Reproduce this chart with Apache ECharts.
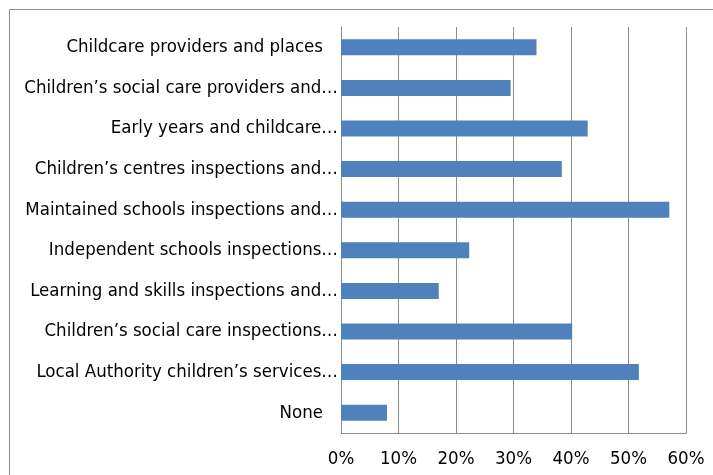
<!DOCTYPE html>
<html>
<head>
<meta charset="utf-8">
<script src="https://cdn.jsdelivr.net/npm/echarts@6/dist/echarts.min.js"></script>
<style>html,body{margin:0;padding:0;background:#fff;}#c{width:713px;height:475px;}</style>
</head>
<body>
<div id="c"></div>
<script>
var categories = [
  "Childcare providers and places",
  "Children\u2019s social care providers and\u2026",
  "Early years and childcare\u2026",
  "Children\u2019s centres inspections and\u2026",
  "Maintained schools inspections and\u2026",
  "Independent schools inspections\u2026",
  "Learning and skills inspections and\u2026",
  "Children\u2019s social care inspections\u2026",
  "Local Authority children\u2019s services\u2026",
  "None"
];
var values = [34.0, 29.5, 42.9, 38.4, 57.1, 22.3, 17.0, 40.2, 51.8, 8.0];
var xTicks = [0, 10, 20, 30, 40, 50, 60];

var FONT = "DejaVu Sans Condensed";
var FS = 18.5;
var chart = echarts.init(document.getElementById('c'));
chart.setOption({
  animation: false,
  backgroundColor: '#fff',
  graphic: [{
    type: 'rect', silent: true, z: -1,
    shape: { x: 9.5, y: 9.5, width: 800, height: 600 },
    style: { fill: 'none', stroke: '#8c8c8c', lineWidth: 1 }
  }],
  grid: { left: 341, right: 27, top: 27, bottom: 42, containLabel: false },
  xAxis: {
    type: 'value', min: xTicks[0], max: xTicks[xTicks.length - 1], interval: 10,
    axisLine: { show: true, lineStyle: { color: '#8c8c8c', width: 1 } },
    axisTick: { show: false },
    splitLine: { show: true, lineStyle: { color: '#8c8c8c', width: 1 } },
    axisLabel: { formatter: function (v) { return v + '%'; }, color: '#000', fontFamily: FONT, fontSize: FS, margin: 17 }
  },
  yAxis: {
    type: 'category', data: categories, inverse: true,
    axisLine: { show: true, lineStyle: { color: '#8c8c8c', width: 1 } },
    axisTick: { show: false },
    axisLabel: {
      color: '#000', fontFamily: FONT, fontSize: FS, margin: 3,
      formatter: function (v) {
        return v.charAt(v.length - 1) === '\u2026' ? '{e|' + v + '}' : '{p|' + v + '}';
      },
      rich: {
        e: { color: '#000', fontFamily: FONT, fontSize: FS },
        p: { color: '#000', fontFamily: FONT, fontSize: FS, padding: [0, 15, 0, 0] }
      }
    }
  },
  series: [{
    type: 'bar', data: values, barWidth: 16,
    itemStyle: { color: '#4F81BD' }
  }]
});
</script>
</body>
</html>
